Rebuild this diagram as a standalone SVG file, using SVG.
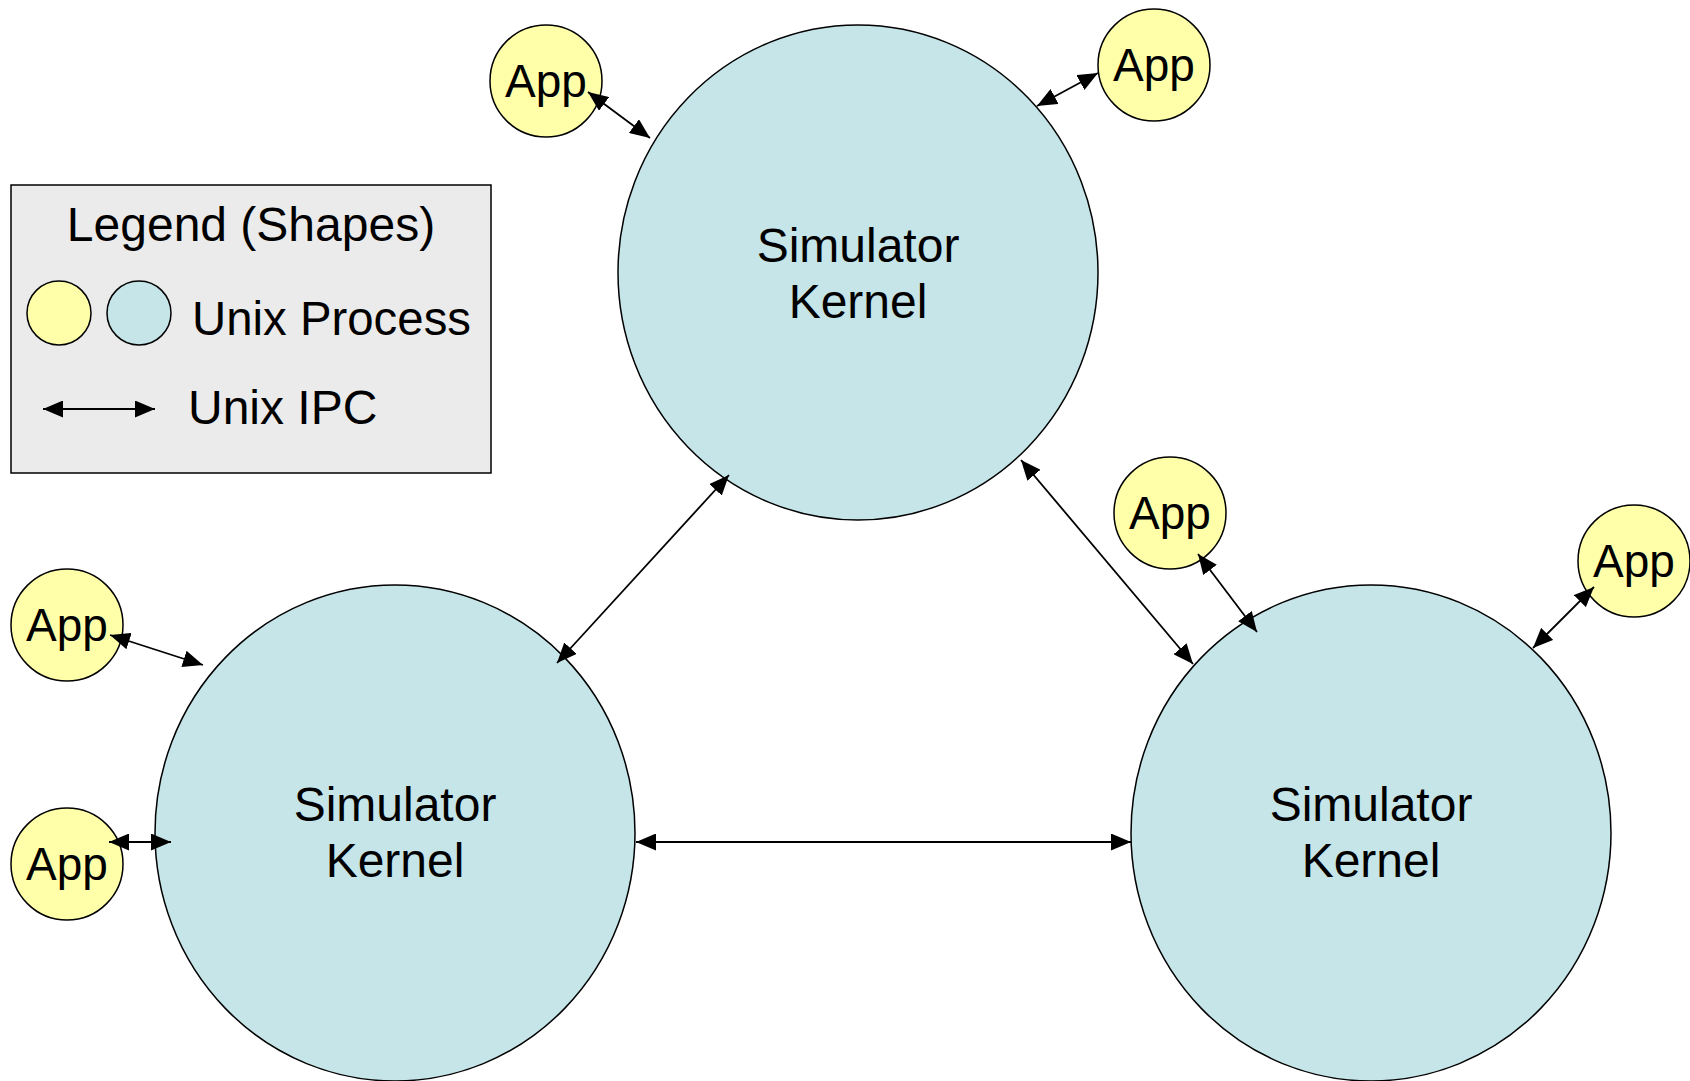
<svg xmlns="http://www.w3.org/2000/svg" width="1690" height="1081" viewBox="0 0 1690 1081">
<style>
.k{fill:#c5e5e9;stroke:#000;stroke-width:1.5}
.a{fill:#ffffaa;stroke:#000;stroke-width:1.5}
.t{font-family:"Liberation Sans",Arial,sans-serif;font-size:48px;fill:#000}
.at{font-family:"Liberation Sans",Arial,sans-serif;font-size:46px;fill:#000;text-anchor:middle}
.c{stroke:#000;stroke-width:1.8;fill:none;marker-start:url(#ah);marker-end:url(#ah)}
</style>
<defs>
<marker id="ah" markerUnits="userSpaceOnUse" markerWidth="20" markerHeight="17" refX="20" refY="8.5" orient="auto-start-reverse" viewBox="0 0 20 17">
<path d="M0,0 L20,8.5 L0,17 z" fill="#000"/>
</marker>
</defs>
<rect width="1690" height="1081" fill="#fff"/>
<g id="legend">
<rect x="11" y="185" width="480" height="288" fill="#ebebeb" stroke="#000" stroke-width="1.5"/>
<text class="t" x="251" y="241" text-anchor="middle">Legend (Shapes)</text>
<circle class="a" cx="59" cy="313" r="32"/>
<circle class="k" cx="139" cy="313" r="32"/>
<text class="t" x="192" y="335" textLength="279" lengthAdjust="spacingAndGlyphs">Unix Process</text>
<line class="c" x1="43" y1="409" x2="155" y2="409"/>
<text class="t" x="188" y="424">Unix IPC</text>
</g>
<g id="kernel-top">
<ellipse class="k" cx="858" cy="272.5" rx="240" ry="247.5"/>
<text class="t" x="858" y="262" text-anchor="middle">Simulator</text>
<text class="t" x="858" y="318" text-anchor="middle">Kernel</text>
</g>
<g id="kernel-left">
<ellipse class="k" cx="395" cy="833" rx="240" ry="248"/>
<text class="t" x="395" y="821" text-anchor="middle">Simulator</text>
<text class="t" x="395" y="877" text-anchor="middle">Kernel</text>
</g>
<g id="kernel-right">
<ellipse class="k" cx="1371" cy="833" rx="240" ry="248"/>
<text class="t" x="1371" y="821" text-anchor="middle">Simulator</text>
<text class="t" x="1371" y="877" text-anchor="middle">Kernel</text>
</g>
<g id="app1"><circle class="a" cx="546" cy="81" r="56"/><text class="at" x="546" y="97">App</text></g>
<g id="app2"><circle class="a" cx="1154" cy="65" r="56"/><text class="at" x="1154" y="81">App</text></g>
<g id="app3"><circle class="a" cx="1170" cy="513" r="56"/><text class="at" x="1170" y="529">App</text></g>
<g id="app4"><circle class="a" cx="1634" cy="561" r="56"/><text class="at" x="1634" y="577">App</text></g>
<g id="app5"><circle class="a" cx="67" cy="625" r="56"/><text class="at" x="67" y="641">App</text></g>
<g id="app6"><circle class="a" cx="67" cy="864" r="56"/><text class="at" x="67" y="880">App</text></g>
<g id="connectors">
<line class="c" x1="588" y1="92" x2="650" y2="138"/>
<line class="c" x1="1098" y1="73" x2="1037" y2="106"/>
<line class="c" x1="729" y1="475" x2="557" y2="663"/>
<line class="c" x1="1021" y1="460" x2="1193" y2="664"/>
<line class="c" x1="636" y1="842" x2="1131" y2="842"/>
<line class="c" x1="1198" y1="554" x2="1257" y2="632"/>
<line class="c" x1="1594" y1="587" x2="1533" y2="648"/>
<line class="c" x1="110" y1="635" x2="203" y2="665"/>
<line class="c" x1="109" y1="842" x2="171" y2="842"/>
</g>
</svg>
